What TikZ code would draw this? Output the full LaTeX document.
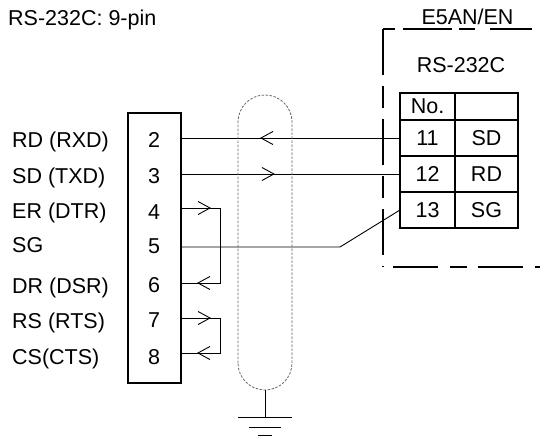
\documentclass[tikz,border=0pt]{standalone}
\usepackage{fontspec}
\setmainfont{Liberation Sans}
\usetikzlibrary{arrows.meta,decorations.markings,positioning}

\begin{document}
\begin{tikzpicture}[x=1pt, y=-1pt,
    every node/.style={font=\fontsize{21.5}{25}\selectfont, inner sep=0pt},
    sig label/.style={anchor=base west},
    pin num/.style={anchor=base},
    pin box/.style={draw, line width=1.8pt, minimum width=53pt, minimum height=270pt},
    cell/.style={draw, line width=1.8pt, outer sep=0pt, minimum height=36pt},
    wire/.style={line width=0.9pt},
    barb at/.style={postaction={decorate, decoration={markings,
        mark=at position #1 with {\arrow{Straight Barb[length=12pt,width=13pt]}}}}},
    shield/.style={draw=black!60, line width=0.8pt, dash pattern=on 2.5pt off 1.5pt},
    frame/.style={line width=1.8pt}]

  \useasboundingbox (0,0) rectangle (540,436);

  % host side, 9-pin connector
  \node[sig label] (title) at (8,26) {RS-232C: 9-pin};
  \node[pin box] (conn) at (154.5,248) {};

  \node[pin num] (n2) at (154,147) {2};
  \node[pin num] (n3) at (154,183) {3};
  \node[pin num] (n4) at (154,219) {4};
  \node[pin num] (n5) at (154,253) {5};
  \node[pin num] (n6) at (154,292) {6};
  \node[pin num] (n7) at (154,327) {7};
  \node[pin num] (n8) at (154,364) {8};

  \node[sig label] (rd)  at (12,147) {RD (RXD)};
  \node[sig label] (sd)  at (12,183) {SD (TXD)};
  \node[sig label] (er)  at (12,218) {ER (DTR)};
  \node[sig label] (sg)  at (12,252) {SG};
  \node[sig label] (dr)  at (12,293) {DR (DSR)};
  \node[sig label] (rs)  at (12,328) {RS (RTS)};
  \node[sig label] (cs)  at (12,364) {CS(CTS)};

  % E5AN/EN side
  \node (dev) at (467.5,25) [anchor=base] {E5AN/EN};
  \node (port) at (461,72) [anchor=base] {RS-232C};
  \draw[frame, dash pattern=on 12pt off 8pt on 49pt off 7pt on 16pt off 15pt on 42pt off 20pt]
    (383,29) -- (540,29);
  \draw[frame, dash pattern=on 46pt off 11pt on 22pt off 11pt] (383,29) -- (383,267);
  \draw[frame, dash pattern=on 45pt off 11.5pt on 17pt off 11.5pt, dash phase=75pt]
    (383,267) -- (540,267);

  \node[cell, minimum width=55pt, minimum height=27pt] (hno) at (427.5,106.5) {No.};
  \node[cell, minimum width=63pt, minimum height=27pt, right=0pt of hno] (hsig) {};
  \node[cell, minimum width=55pt, below=0pt of hno] (c11) {11};
  \node[cell, minimum width=63pt, right=0pt of c11] (s11) {SD};
  \node[cell, minimum width=55pt, below=0pt of c11] (c12) {12};
  \node[cell, minimum width=63pt, right=0pt of c12] (s12) {RD};
  \node[cell, minimum width=55pt, below=0pt of c12] (c13) {13};
  \node[cell, minimum width=63pt, right=0pt of c13] (s13) {SG};

  % pin coordinates on the connector edge
  \coordinate (w4) at (181,208);
  \coordinate (w5) at (181,247);
  \coordinate (w6) at (181,283);
  \coordinate (w7) at (181,318);
  \coordinate (w8) at (181,353);
  \coordinate (bend) at (340,247);

  % wires
  \draw[wire, barb at=140pt] (c11.west) -- (c11.west -| conn.east);
  \draw[wire, barb at=93pt] (c12.west -| conn.east) -- (c12.west);
  \draw[wire] (w5) -- (bend) -- (c13.west);
  \draw[wire, barb at=30pt, barb at=137pt] (w4) -| (w6 -| 220,0) -- (w6);
  \draw[wire, barb at=30pt, barb at=97pt] (w7) -| (w8 -| 220,0) -- (w8);

  % shield and ground
  \coordinate (shbot) at (265,390);
  \coordinate (gnd) at (265,417);
  \draw[shield] (238,363) -- (238,122) arc (180:360:27) -- (292,363) arc (0:180:27);
  \draw[wire] (shbot) -- (gnd);
  \draw[wire] (gnd) ++(-27,0) -- ++(54,0);
  \draw[wire] (gnd) ++(-16,10) -- ++(32,0);
  \draw[wire] (gnd) ++(-7,18) -- ++(14,0);
\end{tikzpicture}
\end{document}
